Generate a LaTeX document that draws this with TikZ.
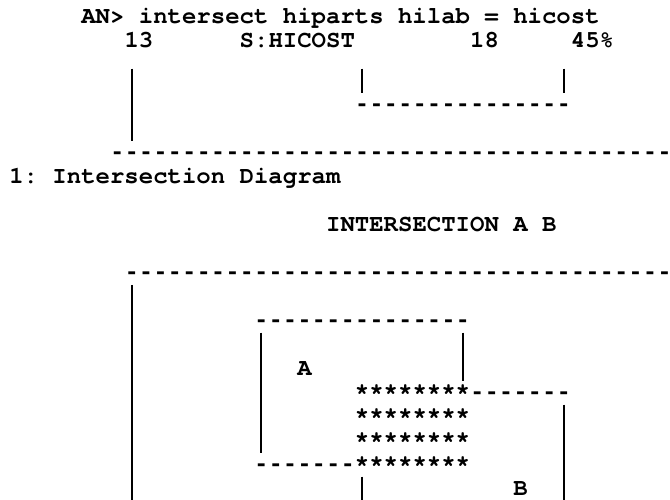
\documentclass[tikz,border=0pt]{standalone}
\usepackage{fontspec}
\newfontfamily\asc{TeX Gyre Cursor}
\newfontfamily\dsh{Liberation Mono}
\newcommand\cx[1]{9.3+#1*14.4}
\newcommand\dashrun[1]{{\dsh\bfseries\foreach\k in {1,...,#1}{-\kern0pt}}}
\tikzset{
  asc/.style={font=\asc\bfseries\fontsize{24}{24}\selectfont\frenchspacing,
    anchor=base west, inner sep=0pt, outer sep=0pt, text=black},
  bar/.style={line width=2pt, black}
}
\begin{document}
\begin{tikzpicture}[x=1pt,y=-1pt]
\useasboundingbox (0,0) rectangle (670,499);
\clip (0,0) rectangle (670,499);
\fill[white] (0,0) rectangle (670,499);
% ---- top block ----
\node[asc] (cmd) at ({\cx{5}},23) {AN> intersect hiparts hilab = hicost};
\node[asc] (n13) at ({\cx{8}},47) {13};
\node[asc] (nset) at ({\cx{16}},47) {S:HICOST};
\node[asc] (n18) at ({\cx{32}},47) {18};
\node[asc] (npc) at ({\cx{39}},47) {45\%};
\draw[bar] ({\cx{8.5}},68.5) -- ({\cx{8.5}},140.9);
\draw[bar] ({\cx{24.5}},68.5) -- ({\cx{24.5}},92.9);
\draw[bar] ({\cx{38.5}},68.5) -- ({\cx{38.5}},92.9);
\node[asc] (d1) at ({\cx{24}},111.1) {\dashrun{15}};
\node[asc] (d2) at ({\cx{7}},159.1) {\dashrun{40}};
\node[asc] (ttl) at ({\cx{0}},183.1) {1: Intersection Diagram};
\node[asc] (hdr) at ({\cx{22}},231.1) {INTERSECTION A B};
% ---- diagram ----
\node[asc] (d3) at ({\cx{8}},279.1) {\dashrun{40}};
\draw[bar] ({\cx{8.5}},284.9) -- ({\cx{8.5}},505);
\node[asc] (atop) at ({\cx{17}},327.1) {\dashrun{15}};
\draw[bar] ({\cx{17.5}},332.5) -- ({\cx{17.5}},452.9);
\draw[bar] ({\cx{31.5}},332.5) -- ({\cx{31.5}},380.9);
\node[asc] (la) at ({\cx{20}},375.1) {A};
\node[asc] (s1) at ({\cx{24}},399.1) {********};
\node[asc] (btop) at ({\cx{32}},399.1) {\dashrun{7}};
\node[asc] (s2) at ({\cx{24}},423.1) {********};
\node[asc] (s3) at ({\cx{24}},447.1) {********};
\node[asc] (abot) at ({\cx{17}},471.1) {\dashrun{7}};
\node[asc] (s4) at ({\cx{24}},471.1) {********};
\draw[bar] ({\cx{38.5}},404.5) -- ({\cx{38.5}},505);
\draw[bar] ({\cx{24.5}},476.5) -- ({\cx{24.5}},505);
\node[asc] (lb) at ({\cx{35}},495.1) {B};
\end{tikzpicture}
\end{document}
